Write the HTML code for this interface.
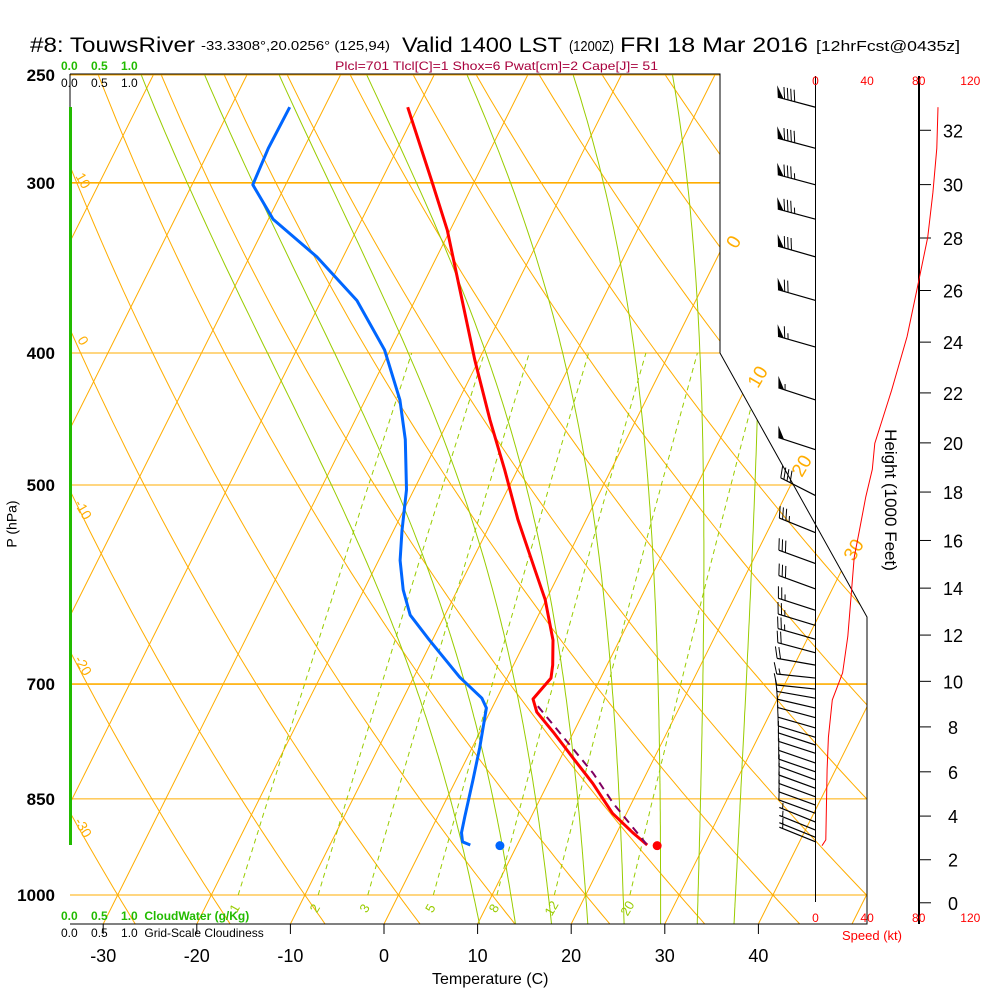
<!DOCTYPE html>
<html><head><meta charset="utf-8"><title>Skew-T TouwsRiver</title>
<style>
html,body{margin:0;padding:0;background:#fff;}
svg{display:block;font-family:"Liberation Sans",Arial,sans-serif;}
</style></head>
<body>
<svg id="chart" width="1000" height="1000" viewBox="0 0 1000 1000">
  <defs>
    <clipPath id="plotclip"><polygon points="70,74 720,74 720,353 867,617 867,924 70,924"/></clipPath>
  </defs>
  <rect x="0" y="0" width="1000" height="1000" fill="#fff"/>
  <g>
    <text x="30" y="52" font-size="21" textLength="165" lengthAdjust="spacingAndGlyphs">#8: TouwsRiver</text>
    <text x="201" y="50" font-size="13" textLength="189" lengthAdjust="spacingAndGlyphs">-33.3308°,20.0256° (125,94)</text>
    <text x="402" y="52" font-size="21" textLength="160" lengthAdjust="spacingAndGlyphs">Valid 1400 LST</text>
    <text x="569" y="51" font-size="15" textLength="45" lengthAdjust="spacingAndGlyphs">(1200Z)</text>
    <text x="620" y="52" font-size="21" textLength="188" lengthAdjust="spacingAndGlyphs">FRI 18 Mar 2016</text>
    <text x="816" y="51" font-size="15" textLength="144" lengthAdjust="spacingAndGlyphs">[12hrFcst@0435z]</text>
    <text x="335" y="70" font-size="12" fill="#a8003c" textLength="323" lengthAdjust="spacingAndGlyphs">Plcl=701 Tlcl[C]=1 Shox=6 Pwat[cm]=2 Cape[J]= 51</text>
  </g>
  <g id="grid" clip-path="url(#plotclip)"></g>
  <g id="series" clip-path="url(#plotclip)"></g>
  <g id="overlay"></g>
</svg>
<script>
const pressureLevels = [250, 300, 400, 500, 700, 850, 1000];
const tempTicks = [-30, -20, -10, 0, 10, 20, 30, 40];
const tempP = [264,299,325,360,405,448,488,530,577,607,650,678,693,718,734,759,793,828,871,900,919];
const tempT = [-41.1,-34.6,-30.3,-25.7,-20.4,-15.6,-11.3,-7.3,-2.8,-0.1,2.9,4.2,4.7,3.9,5.0,7.8,11.3,14.8,18.5,21.7,23.9];
const dewP = [264,283,301,319,340,366,398,433,463,504,540,568,597,623,650,692,717,729,779,823,876,900,914,919];
const dewT = [-53.7,-53.8,-53.5,-49.5,-42.8,-36.2,-30.6,-26.3,-23.6,-20.8,-19.1,-17.7,-15.8,-13.7,-10.3,-5.1,-1.6,-0.6,0.8,1.8,2.9,3.4,4.0,5.0];
const parcelP = [918,856,814,725];
const parcelT = [23.8,18.0,14.3,4.6];
const sfcP = 920, sfcT = 25.0, sfcTd = 8.2;
const spdP = [264,283,305,329,358,389,426,466,487,510,540,565,597,646,687,719,766,809,911,920];
const spdV = [95,94,91,87,79,71,59,46,44,39,34,30,28,25,21,13,10,9,8,5];
const barbP = [264,283,301,319,340,366,396,433,471,509,542,571,596,618,634,649,664,678,693,706,717,729,741,754,766,776,787,800,812,823,835,847,859,871,884,896,907,914];
const barbSpd = [90,90,85,85,80,70,65,55,50,40,35,30,30,25,25,25,20,20,15,10,10,10,10,10,10,10,10,10,10,10,10,10,10,10,5,5,5,5];
const barbDir = [285,285,285,285,286,286,286,288,288,297,292,290,290,288,287,286,285,280,276,276,280,283,285,286,287,288,288,289,289,290,290,290,290,290,292,292,292,292];
const heightTicks = [0,2,4,6,8,10,12,14,16,18,20,22,24,26,28,30,32];
const speedTicks = [0,40,80,120];
const mixRatios = [1,2,3,5,8,12,20];
const dryThetas = [-30,-20,-10,0,10,20,30,40,50,60,70,80,90,100,110,120,130,140,150,160,170,180,190,200];
const moistThetas = [8,12,16,20,24,28,32,36];
const isotherms = [-80,-70,-60,-50,-40,-30,-20,-10,0,10,20,30,40,50];

const yP = p => 895 + 591.5*Math.log(p/1000);
const xT = (T,p) => 384 + 9.36*T + 0.5*(924 - yP(p));
const xS = s => 815.5 + 1.29*s;
const NS = 'http://www.w3.org/2000/svg';
function mk(tag, attrs, parent){ const e=document.createElementNS(NS,tag); for(const k in attrs) e.setAttribute(k,attrs[k]); parent.appendChild(e); return e; }
const grid=document.getElementById('grid'), series=document.getElementById('series'), overlay=document.getElementById('overlay');
const ORANGE='#ffad00', GREEN='#99cc00';
const ptsStr = arr => arr.map(a=>a[0].toFixed(1)+','+a[1].toFixed(1)).join(' ');

pressureLevels.forEach(p=>{
  const l=mk('line',{x1:70,x2:870,y1:yP(p),y2:yP(p),stroke:ORANGE,'stroke-width':(p===300||p===700)?1.6:1},grid);
  
  
});
isotherms.forEach(T=>{
  const l=mk('line',{x1:xT(T,1050),y1:yP(1050),x2:xT(T,250),y2:yP(250),stroke:ORANGE,'stroke-width':1},grid);
  
  
});
dryThetas.forEach(th=>{
  const pts=[]; for(let p=1050;p>=250;p-=10){ const T=(th+273.15)*Math.pow(p/1000,0.2857)-273.15; pts.push([xT(T,p),yP(p)]); }
  const l=mk('polyline',{points:ptsStr(pts),fill:'none',stroke:ORANGE,'stroke-width':1},grid);
  
  
});
function es(T){return 6.112*Math.exp(17.67*T/(T+243.5));}
function dTdp(T,p){const Tk=T+273.15,e=es(T),rs=0.622*e/(p-e);return (287*Tk+2.5e6*rs)/(p*(1004+2.5e6*2.5e6*rs*0.622/(287*Tk*Tk)));}
moistThetas.forEach(th=>{
  const up=[],dn=[]; let T=th;
  for(let p=1000;p>=250;p-=5){ up.push([xT(T,p),yP(p)]); T-=5*dTdp(T,p); }
  T=th; for(let p=1000;p<=1050;p+=5){ dn.push([xT(T,p),yP(p)]); T+=5*dTdp(T,p); }
  const pts=dn.reverse().concat(up);
  const l=mk('polyline',{points:ptsStr(pts),fill:'none',stroke:GREEN,'stroke-width':1},grid);
  
  
});
function tdFromW(w,p){const e=w*p/(622+w),l=Math.log(e/6.112);return 243.5*l/(17.67-l);}
mixRatios.forEach(w=>{
  const pts=[]; for(let p=1000;p>=400;p-=10) pts.push([xT(tdFromW(w,p),p),yP(p)]);
  const l=mk('polyline',{points:ptsStr(pts),fill:'none',stroke:GREEN,'stroke-width':1,'stroke-dasharray':'5,4'},grid);
  
  
  const x=xT(tdFromW(w,1022),1022);
  const t=mk('text',{x:x,y:913,'font-size':13,fill:GREEN,'text-anchor':'middle',transform:'rotate(-60 '+x+' 908)'},overlay);
  t.textContent=String(w);
  
  
});

const tPts=tempP.map((p,i)=>[xT(tempT[i],p),yP(p)]);
const tl=mk('polyline',{points:ptsStr(tPts),fill:'none',stroke:'#ff0000','stroke-width':3,'stroke-linejoin':'round'},series);


const dPts=dewP.map((p,i)=>[xT(dewT[i],p),yP(p)]);
const dl=mk('polyline',{points:ptsStr(dPts),fill:'none',stroke:'#0066ff','stroke-width':3,'stroke-linejoin':'round'},series);


const pPts=parcelP.map((p,i)=>[xT(parcelT[i],p),yP(p)]);
const pl=mk('polyline',{points:ptsStr(pPts),fill:'none',stroke:'#800060','stroke-width':2,'stroke-dasharray':'8,6'},series);


const sd1=mk('circle',{cx:xT(sfcT,sfcP),cy:yP(sfcP),r:4.5,fill:'#ff0000'},series);


const sd2=mk('circle',{cx:xT(sfcTd,sfcP),cy:yP(sfcP),r:4.5,fill:'#0066ff'},series);



const border=mk('polyline',{points:'70,74 720,74 720,353 867,617 867,924 70,924',fill:'none',stroke:'#000','stroke-width':1},overlay);


const cwl=mk('line',{x1:70.5,y1:107,x2:70.5,y2:845,stroke:'#22bb00','stroke-width':3},overlay);


const lb=mk('line',{x1:70,y1:74,x2:70,y2:107,stroke:'#000','stroke-width':1},overlay);



pressureLevels.forEach(p=>{
  const t=mk('text',{x:55,y:yP(p)+6,'font-size':17,'font-weight':'bold','text-anchor':'end'},overlay);
  t.textContent=String(p);
  
  
});
tempTicks.forEach(T=>{
  const x=384+9.36*T;
  const l=mk('line',{x1:x,y1:924,x2:x,y2:934,stroke:'#000'},overlay);
  
  
  const t=mk('text',{x:x,y:962,'font-size':18,'text-anchor':'middle'},overlay);
  t.textContent=String(T);
  
  
});
[[10,183],[0,343],[-10,512],[-20,668],[-30,830]].forEach(a=>{
  const t=mk('text',{x:79,y:a[1],'font-size':14,fill:ORANGE,'text-anchor':'middle',transform:'rotate(60 79 '+a[1]+')'},overlay);
  t.textContent=String(a[0]);
  
  
});
[[0,734,248],[10,758,383],[20,802,472],[30,854,556]].forEach(a=>{
  const t=mk('text',{x:a[1],y:a[2],'font-size':19,fill:ORANGE,'text-anchor':'middle',transform:'rotate(-60 '+a[1]+' '+(a[2]-6)+')'},overlay);
  t.textContent=String(a[0]);
  
  
});

const sa=mk('line',{x1:815.5,y1:76,x2:815.5,y2:902,stroke:'#000','stroke-width':1},overlay);


const ha=mk('line',{x1:919,y1:76,x2:919,y2:924,stroke:'#000','stroke-width':2},overlay);


speedTicks.forEach(s=>{
  [[85,'top'],[922,'bottom']].forEach(r=>{
    const t=mk('text',{x:xS(s),y:r[0],'font-size':12,fill:'#ff0000','text-anchor':'middle'},overlay);
    t.textContent=String(s);
    
    
  });
});
const sl=mk('text',{x:872,y:940,'font-size':13,fill:'#ff0000','text-anchor':'middle'},overlay);
sl.textContent='Speed (kt)';


const hToP = h => 1013.25*Math.pow(1-6.8756e-6*h*1000,5.2559);
heightTicks.forEach(h=>{
  const y=yP(hToP(h));
  const l=mk('line',{x1:919,y1:y,x2:931,y2:y,stroke:'#000','stroke-width':1},overlay);
  
  
  const t=mk('text',{x:953,y:y+7,'font-size':18,'text-anchor':'middle'},overlay);
  t.textContent=String(h);
  
  
});
const ht=mk('text',{x:885,y:500,'font-size':17,'text-anchor':'middle',transform:'rotate(90 885 500)'},overlay);
ht.textContent='Height (1000 Feet)';


const sp=spdP.map((p,i)=>[xS(spdV[i]),yP(p)]);
const spl=mk('polyline',{points:ptsStr(sp),fill:'none',stroke:'#ff0000','stroke-width':1},overlay);



barbP.forEach((p,i)=>{
  const g=mk('g',{},overlay);
  
  
  const D=barbDir[i]*Math.PI/180, ux=Math.sin(D), uy=-Math.cos(D);
  const bx=815.5, by=yP(p), L=39;
  const tx=bx+L*ux, ty=by+L*uy;
  mk('line',{x1:bx,y1:by,x2:tx,y2:ty,stroke:'#000','stroke-width':1.2},g);
  const a=Math.atan2(uy,ux)+72*Math.PI/180, fx=Math.cos(a), fy=Math.sin(a);
  let s=barbSpd[i], pos=0; const FL=12, step=3.5;
  while(s>=50){ const x0=tx-ux*pos,y0=ty-uy*pos,x1=tx-ux*(pos+6),y1=ty-uy*(pos+6);
    mk('polygon',{points:ptsStr([[x0,y0],[x0+fx*FL,y0+fy*FL],[x1,y1]]),fill:'#000'},g); s-=50; pos+=7; }
  while(s>=10){ const x0=tx-ux*pos,y0=ty-uy*pos; mk('line',{x1:x0,y1:y0,x2:x0+fx*FL,y2:y0+fy*FL,stroke:'#000','stroke-width':1},g); s-=10; pos+=step; }
  if(s>=5){ if(pos===0) pos=step; const x0=tx-ux*pos,y0=ty-uy*pos; mk('line',{x1:x0,y1:y0,x2:x0+fx*FL/2,y2:y0+fy*FL/2,stroke:'#000','stroke-width':1},g); }
});
</script>
<div style="position:absolute;left:0;top:0;width:1000px;height:1000px;pointer-events:none">
  <div style="position:absolute;left:61px;top:59px;font:bold 12px 'Liberation Sans',sans-serif;color:#22bb00">0.0&nbsp;&nbsp;&nbsp;&nbsp;0.5&nbsp;&nbsp;&nbsp;&nbsp;1.0</div>
  <div style="position:absolute;left:61px;top:76px;font:12px 'Liberation Sans',sans-serif;color:#000">0.0&nbsp;&nbsp;&nbsp;&nbsp;0.5&nbsp;&nbsp;&nbsp;&nbsp;1.0</div>
  <div style="position:absolute;left:61px;top:909px;font:bold 12px 'Liberation Sans',sans-serif;color:#22bb00;white-space:nowrap">0.0&nbsp;&nbsp;&nbsp;&nbsp;0.5&nbsp;&nbsp;&nbsp;&nbsp;1.0&nbsp;&nbsp;CloudWater (g/Kg)</div>
  <div style="position:absolute;left:61px;top:926px;font:12px 'Liberation Sans',sans-serif;color:#000;white-space:nowrap">0.0&nbsp;&nbsp;&nbsp;&nbsp;0.5&nbsp;&nbsp;&nbsp;&nbsp;1.0&nbsp;&nbsp;Grid-Scale Cloudiness</div>
  <div style="position:absolute;left:432px;top:971px;font:16px 'Liberation Sans',sans-serif;color:#000;white-space:nowrap">Temperature (C)</div>
  <div style="position:absolute;left:-12px;top:516px;font:14px 'Liberation Sans',sans-serif;color:#000;transform:rotate(-90deg);white-space:nowrap">P (hPa)</div>
</div>
</body></html>
